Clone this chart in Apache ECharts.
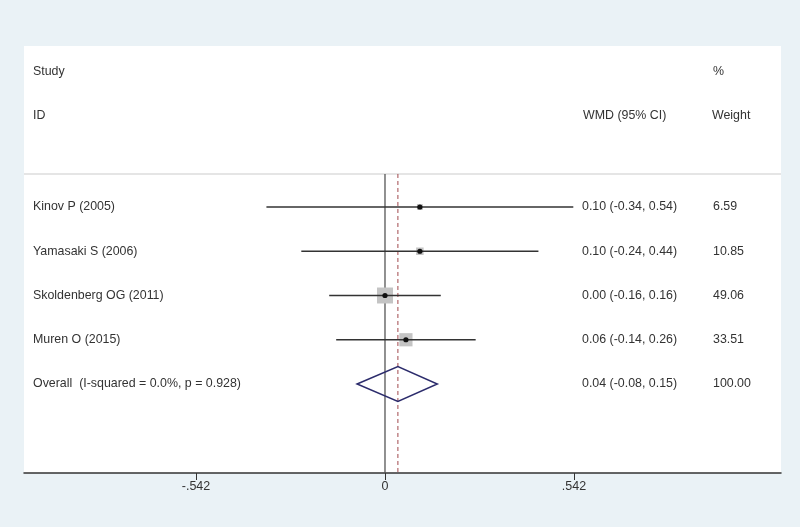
<!DOCTYPE html>
<html>
<head>
<meta charset="utf-8">
<script src="https://cdn.jsdelivr.net/npm/echarts@6/dist/echarts.min.js"></script>
<style>
html, body { margin: 0; padding: 0; background: #eaf2f6; }
#main { width: 800px; height: 527px; }
</style>
</head>
<body>
<div id="main"></div>
<script>
// forest plot data
var studies = ['Kinov P (2005)', 'Yamasaki S (2006)', 'Skoldenberg OG (2011)', 'Muren O (2015)'];
var wmd = [0.10, 0.10, 0.00, 0.06];
var lower = [-0.34, -0.24, -0.16, -0.14];
var upper = [0.54, 0.44, 0.16, 0.26];
var weights = [6.59, 10.85, 49.06, 33.51];
var overallLabel = 'Overall  (I-squared = 0.0%, p = 0.928)';
var overallEst = 0.037;
var overallLow = -0.08;
var overallHigh = 0.15;
var overallWeight = 100.00;
var tickValues = [-0.542, 0, 0.542];
var tickLabels = ['-.542', '0', '.542'];

var myChart = echarts.init(document.getElementById('main'));

var FONT = '12.4px "Liberation Sans", Arial, sans-serif';
var TXT = '#333';
var estX = 582, wtX = 713;   // text columns (px)
var sepY = -0.746;           // separator row (in row units)

function fmt(v) { return v.toFixed(2); }
function ciText(e, l, h) { return fmt(e) + ' (' + fmt(l) + ', ' + fmt(h) + ')'; }

function texts(x0, y, name, ci, w) {
    return [
        {type: 'text', x: x0 + 9, y: y, style: {text: name, fill: TXT, font: FONT, verticalAlign: 'middle'}},
        {type: 'text', x: estX, y: y, style: {text: ci, fill: TXT, font: FONT, verticalAlign: 'middle'}},
        {type: 'text', x: wtX, y: y, style: {text: w, fill: TXT, font: FONT, verticalAlign: 'middle'}}
    ];
}

var option = {
    backgroundColor: '#eaf2f6',
    animation: false,
    grid: {
        left: 24, right: 19, top: 46, bottom: 54,
        show: true, backgroundColor: '#fff', borderWidth: 0
    },
    xAxis: {
        type: 'value',
        min: -1.0352,
        max: 1.1356,
        splitLine: {show: false},
        axisLine: {onZero: false, lineStyle: {color: '#333', width: 1.5}},
        axisTick: {customValues: tickValues, length: 7, lineStyle: {color: '#333'}},
        axisLabel: {
            customValues: tickValues,
            color: TXT,
            fontFamily: '"Liberation Sans Narrow", "Liberation Sans", Arial',
            fontSize: 12.5,
            margin: 7,
            formatter: function (v) {
                var i = tickValues.indexOf(v);
                return i >= 0 ? tickLabels[i] : '';
            }
        }
    },
    yAxis: {
        type: 'value',
        inverse: true,
        min: -3.638,
        max: 6.011,
        show: false
    },
    graphic: [
        {type: 'text', left: 33, top: 66, style: {text: 'Study', fill: TXT, font: FONT}},
        {type: 'text', left: 33, top: 110, style: {text: 'ID', fill: TXT, font: FONT}},
        {type: 'text', left: 713, top: 66, style: {text: '%', fill: TXT, font: FONT}},
        {type: 'text', left: 583, top: 110, style: {text: 'WMD (95% CI)', fill: TXT, font: FONT}},
        {type: 'text', left: 712, top: 110, style: {text: 'Weight', fill: TXT, font: FONT}}
    ],
    series: [
        {
            // separator + reference lines
            name: 'ref',
            type: 'custom',
            z: 1,
            data: [[0], [overallEst]],
            renderItem: function (params, api) {
                var x = api.value(0);
                var top = api.coord([x, sepY]);
                var bot = api.coord([x, 6.011]);
                var cs = params.coordSys;
                var kids = [];
                if (params.dataIndex === 0) {
                    kids.push({type: 'line', shape: {x1: cs.x, y1: top[1], x2: cs.x + cs.width, y2: top[1]},
                        style: {stroke: '#dcdcdc', lineWidth: 1.5}});
                    kids.push({type: 'line', shape: {x1: top[0], y1: top[1], x2: bot[0], y2: bot[1]},
                        style: {stroke: '#555', lineWidth: 1.3}});
                } else {
                    kids.push({type: 'line', shape: {x1: top[0], y1: top[1], x2: bot[0], y2: bot[1]},
                        style: {stroke: '#a0474c', lineWidth: 1, lineDash: [4, 3]}});
                }
                return {type: 'group', children: kids};
            }
        },
        {
            name: 'studies',
            type: 'custom',
            z: 2,
            data: studies.map(function (s, i) { return [i, wmd[i], lower[i], upper[i], weights[i]]; }),
            renderItem: function (params, api) {
                var i = params.dataIndex;
                var y = api.value(0);
                var c = api.coord([api.value(1), y]);
                var l = api.coord([api.value(2), y]);
                var h = api.coord([api.value(3), y]);
                var side = 2.28 * Math.sqrt(api.value(4));
                var kids = [
                    {type: 'rect', shape: {x: c[0] - side / 2, y: c[1] - side / 2, width: side, height: side},
                        style: {fill: '#c4c4c4'}},
                    {type: 'line', shape: {x1: l[0], y1: l[1], x2: h[0], y2: h[1]},
                        style: {stroke: '#333', lineWidth: 1.5}},
                    {type: 'circle', shape: {cx: c[0], cy: c[1], r: 2.6}, style: {fill: '#111'}}
                ];
                return {type: 'group', children: kids.concat(
                    texts(params.coordSys.x, c[1], studies[i], ciText(wmd[i], lower[i], upper[i]), fmt(weights[i])))};
            }
        },
        {
            name: 'overall',
            type: 'custom',
            z: 2,
            data: [[4, overallEst, overallLow, overallHigh, overallWeight]],
            renderItem: function (params, api) {
                var y = api.value(0);
                var c = api.coord([api.value(1), y]);
                var l = api.coord([api.value(2), y]);
                var h = api.coord([api.value(3), y]);
                var hh = 17.5;
                var kids = [
                    {type: 'polygon', shape: {points: [[l[0], l[1]], [c[0], c[1] - hh], [h[0], h[1]], [c[0], c[1] + hh]]},
                        style: {fill: 'none', stroke: '#2c2c6c', lineWidth: 1.5}}
                ];
                return {type: 'group', children: kids.concat(
                    texts(params.coordSys.x, c[1], overallLabel, ciText(overallEst, overallLow, overallHigh), fmt(overallWeight)))};
            }
        }
    ]
};

myChart.setOption(option);
</script>
</body>
</html>
